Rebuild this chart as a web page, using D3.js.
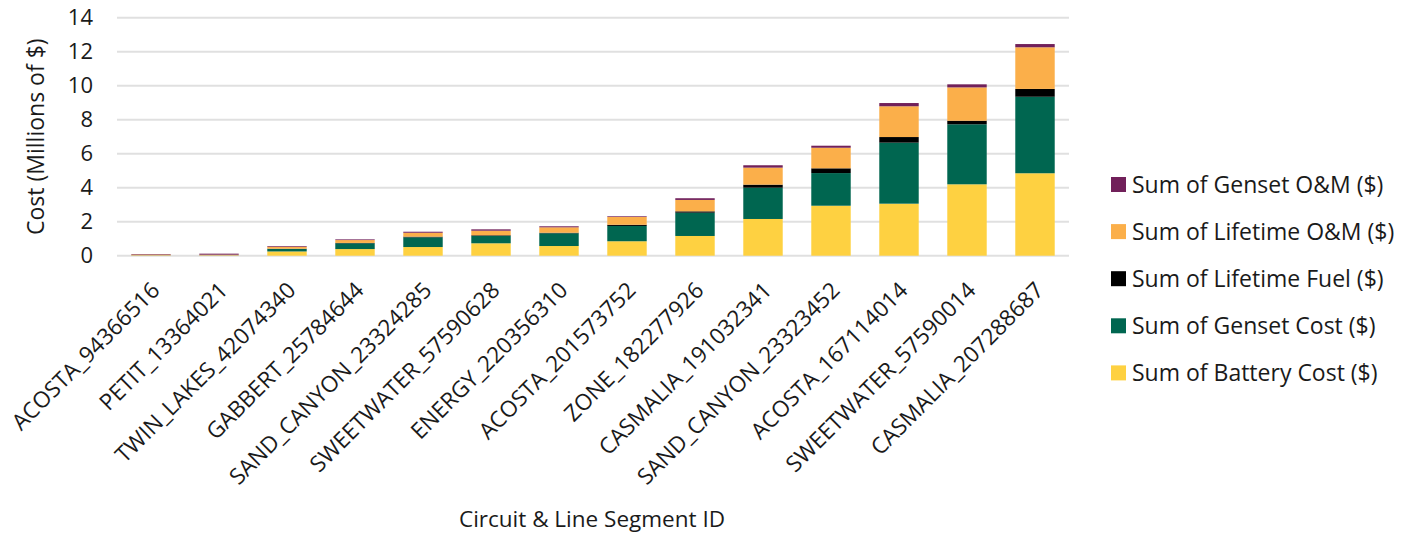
<!DOCTYPE html>
<html>
<head>
<meta charset="utf-8">
<script src="https://cdn.jsdelivr.net/npm/d3@7"></script>
<style>
  html, body { margin: 0; padding: 0; background: #ffffff; }
  svg { display: block; }
  text { font-family: "Open Sans", "Noto Sans", sans-serif; fill: #1a1a1a; }
</style>
</head>
<body>
<svg id="chart" width="1412" height="535"></svg>
<script>
const categories = [
  "ACOSTA_94366516", "PETIT_13364021", "TWIN_LAKES_42074340", "GABBERT_25784644",
  "SAND_CANYON_23324285", "SWEETWATER_57590628", "ENERGY_220356310", "ACOSTA_201573752",
  "ZONE_182277926", "CASMALIA_191032341", "SAND_CANYON_23323452", "ACOSTA_167114014",
  "SWEETWATER_57590014", "CASMALIA_207288687"
];
// values in millions of $
const batteryCost  = [0.01, 0.01, 0.25, 0.39, 0.51, 0.73, 0.57, 0.85, 1.16, 2.16, 2.94, 3.06, 4.20, 4.85];
const gensetCost   = [0.01, 0.01, 0.15, 0.34, 0.57, 0.43, 0.75, 0.90, 1.37, 1.84, 1.92, 3.59, 3.53, 4.50];
const lifetimeFuel = [0.00, 0.00, 0.01, 0.02, 0.04, 0.04, 0.03, 0.07, 0.08, 0.18, 0.28, 0.33, 0.21, 0.46];
const lifetimeOM   = [0.05, 0.04, 0.12, 0.17, 0.23, 0.27, 0.32, 0.46, 0.67, 1.00, 1.21, 1.81, 1.96, 2.45];
const gensetOM     = [0.03, 0.06, 0.04, 0.04, 0.06, 0.08, 0.06, 0.04, 0.10, 0.14, 0.12, 0.19, 0.18, 0.19];

const seriesNames = [
  "Sum of Battery Cost ($)", "Sum of Genset Cost ($)", "Sum of Lifetime Fuel ($)",
  "Sum of Lifetime O&M ($)", "Sum of Genset O&M ($)"
];
const seriesValues = [batteryCost, gensetCost, lifetimeFuel, lifetimeOM, gensetOM];
const seriesColors = ["#FED141", "#006650", "#000000", "#FBAF4A", "#71205A"];
const yTicks = [0, 2, 4, 6, 8, 10, 12, 14];

const yAxisTitle = "Cost (Millions of $)";
const xAxisTitle = "Circuit & Line Segment ID";

const svg = d3.select("#chart");
const plot = { left: 117, right: 1069, top: 17.7, bottom: 255.7 };

const x = d3.scaleBand().domain(categories).range([plot.left, plot.right])
  .paddingInner(0.42).paddingOuter(0.21);
const y = d3.scaleLinear().domain([0, 14]).range([plot.bottom, plot.top]);

// table for stacking
const rows = categories.map((c, i) => {
  const r = { cat: c };
  seriesNames.forEach((s, j) => r[s] = seriesValues[j][i]);
  return r;
});
const stacked = d3.stack().keys(seriesNames)(rows);

// gridlines
svg.append("g").selectAll("line").data(yTicks).join("line")
  .attr("x1", plot.left).attr("x2", plot.right)
  .attr("y1", d => y(d)).attr("y2", d => y(d))
  .attr("stroke", "#e0e0e0").attr("stroke-width", 2);

// y axis labels
const yAxis = d3.axisLeft(y).tickValues(yTicks).tickSize(0).tickPadding(24);
const gy = svg.append("g").attr("transform", `translate(${plot.left},0)`).call(yAxis);
gy.select(".domain").remove();
gy.selectAll("text").style("font-family", '"Open Sans", sans-serif')
  .style("font-size", "22px").attr("fill", "#1a1a1a");

// bars
svg.append("g").selectAll("g").data(stacked).join("g")
  .attr("fill", (d, i) => seriesColors[i])
  .selectAll("rect").data(d => d).join("rect")
  .attr("x", d => x(d.data.cat))
  .attr("width", x.bandwidth())
  .attr("y", d => y(d[1]))
  .attr("height", d => Math.max(0, y(d[0]) - y(d[1])));

// x axis labels
const xAxis = d3.axisBottom(x).tickSize(0).tickPadding(0);
const gx = svg.append("g").attr("transform", `translate(0,${plot.bottom})`).call(xAxis);
gx.select(".domain").remove();
gx.selectAll("text")
  .style("font-family", '"Open Sans", sans-serif')
  .style("font-size", "22.5px").attr("fill", "#1a1a1a")
  .attr("text-anchor", "end")
  .attr("dy", null)
  .attr("y", 0)
  .attr("transform", "translate(10,36) rotate(-45)");

// axis titles
svg.append("text").attr("transform", `translate(44,${(plot.top + plot.bottom) / 2}) rotate(-90)`)
  .attr("text-anchor", "middle").style("font-size", "23px").text(yAxisTitle);
svg.append("text").attr("x", 592).attr("y", 527)
  .attr("text-anchor", "middle").style("font-size", "22.5px").text(xAxisTitle);

// legend
const legendOrder = [4, 3, 2, 1, 0];
const lg = svg.append("g").selectAll("g").data(legendOrder).join("g")
  .attr("transform", (d, i) => `translate(1111,${185 + i * 47.1})`);
lg.append("rect").attr("x", 0).attr("y", -8).attr("width", 15).attr("height", 15)
  .attr("fill", d => seriesColors[d]);
lg.append("text").attr("x", 21).attr("y", 0).attr("dy", "0.35em")
  .style("font-size", "23px").text(d => seriesNames[d]);
</script>
</body>
</html>
